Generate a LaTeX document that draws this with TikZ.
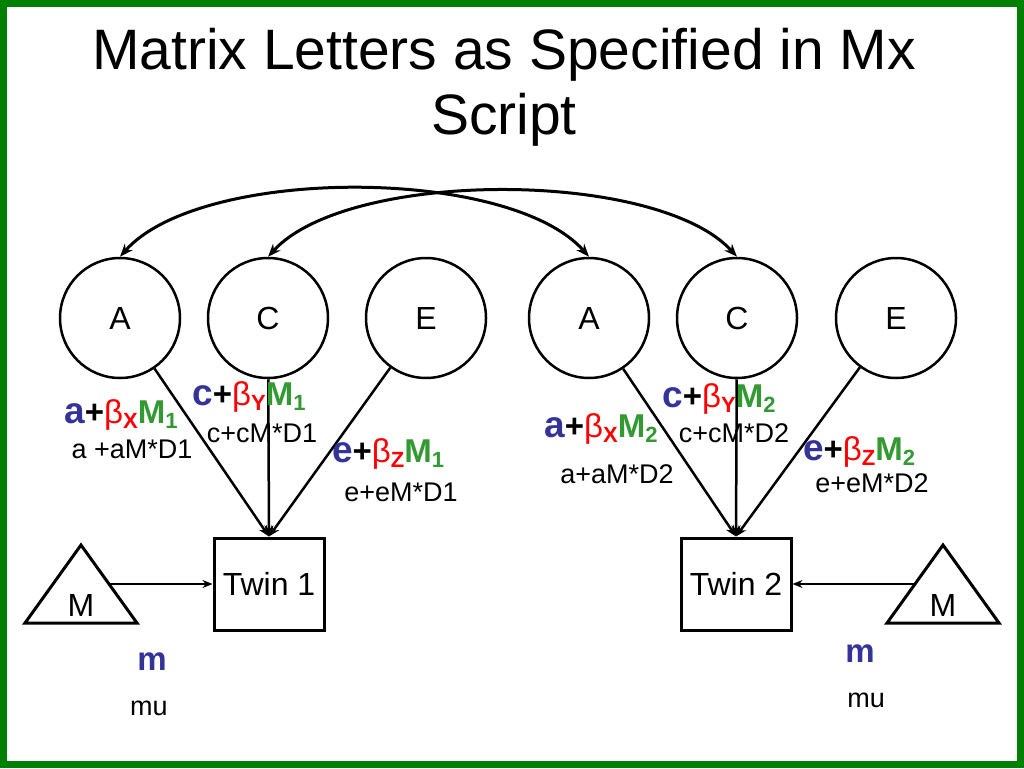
\documentclass[tikz,border=0pt]{standalone}
\usepackage{fontspec}
\setmainfont{Liberation Sans}
\usetikzlibrary{arrows.meta, positioning}
\definecolor{slidegreen}{RGB}{0,128,0}
\definecolor{pathblue}{RGB}{51,51,153}
\definecolor{pathred}{RGB}{255,0,0}
\definecolor{pathgreen}{RGB}{51,153,51}

\newcommand{\subtxt}[1]{\raisebox{-5pt}{\fontsize{22}{22}\selectfont #1}}
\newcommand{\pathlbl}[3]{\textcolor{pathblue}{\fontsize{37}{36}\selectfont #1}+\textcolor{pathred}{{\mdseries β}\subtxt{#2}}\textcolor{pathgreen}{M\subtxt{#3}}}

\begin{document}
\begin{tikzpicture}[
    x=1pt, y=-1pt,
    latent/.style={circle, draw, line width=2.5pt, minimum size=120pt, inner sep=0pt, font=\fontsize{32}{36}\selectfont},
    twinbox/.style={rectangle, draw, line width=3pt, minimum width=110pt, minimum height=92pt, inner sep=0pt, font=\fontsize{32}{36}\selectfont},
    meanlbl/.style={inner sep=0pt, anchor=base, font=\fontsize{32}{36}\selectfont},
    boldlbl/.style={inner sep=0pt, anchor=base, font=\fontsize{33}{36}\selectfont\bfseries},
    plainlbl/.style={inner sep=0pt, anchor=base, font=\fontsize{27}{30}\selectfont},
    pathline/.style={-{Stealth[length=11pt, width=9pt]}, line width=2.5pt},
    covarrow/.style={{Stealth[length=13pt, width=10pt]}-{Stealth[length=13pt, width=10pt]}, line width=3pt},
    meanarrow/.style={-{Stealth[length=10pt, width=8pt]}, line width=2pt},
]
    \useasboundingbox (0,0) rectangle (1024,768);
    \draw[slidegreen, line width=7pt] (3.5,3.5) rectangle (1020.5,764.5);

    % Title
    \node[anchor=north, inner sep=0pt, align=center, font=\fontsize{57}{65}\selectfont] (title) at (504,28)
        {Matrix Letters as Specified in Mx\\Script};

    % Latent factors
    \node[latent] (A1) at (120,318) {A};
    \node[latent] (C1) at (268,318) {C};
    \node[latent] (E1) at (426,318) {E};
    \node[latent] (A2) at (589,318) {A};
    \node[latent] (C2) at (737,318) {C};
    \node[latent] (E2) at (896,318) {E};

    % Twins
    \node[twinbox] (twin1) at (269,584) {Twin 1};
    \node[twinbox] (twin2) at (736,584) {Twin 2};

    % Means
    \draw[line width=3pt, line join=miter] (25,623) -- (81,545) -- (137,623) -- cycle;
    \node[meanlbl] (M1) at (81,616) {M};
    \coordinate (M1out) at (110,584);
    \draw[line width=3pt, line join=miter] (887,623) -- (943,545) -- (999,623) -- cycle;
    \node[meanlbl] (M2) at (943,616) {M};
    \coordinate (M2out) at (915,584);

    % Covariances
    \draw[covarrow] (A1.north) .. controls (200,166) and (509,166) .. (A2.north);
    \draw[covarrow] (C1.north) .. controls (348,169) and (657,169) .. (C2.north);

    % Paths
    \draw[pathline] (A1) -- (twin1.north);
    \draw[pathline] (C1) -- (twin1.north);
    \draw[pathline] (E1) -- (twin1.north);
    \draw[pathline] (A2) -- (twin2.north);
    \draw[pathline] (C2) -- (twin2.north);
    \draw[pathline] (E2) -- (twin2.north);
    \draw[meanarrow] (M1out) -- (twin1.west);
    \draw[meanarrow] (M2out) -- (twin2.east);

    % Path labels, twin 1
    \node[boldlbl] (la1) at (121,423) {\pathlbl{a}{X}{1}};
    \node[plainlbl] (ta1) at (132,458) {a +aM*D1};
    \node[boldlbl] (lc1) at (249,405) {\pathlbl{c}{Y}{1}};
    \node[plainlbl] (tc1) at (262,442) {c+cM*D1};
    \node[boldlbl] (le1) at (388,462) {\pathlbl{e}{Z}{1}};
    \node[plainlbl] (te1) at (401,501) {e+eM*D1};

    % Path labels, twin 2
    \node[boldlbl] (la2) at (601,437) {\pathlbl{a}{X}{2}};
    \node[plainlbl] (ta2) at (617,483) {a+aM*D2};
    \node[boldlbl] (lc2) at (719,407) {\pathlbl{c}{Y}{2}};
    \node[plainlbl] (tc2) at (734,442) {c+cM*D2};
    \node[boldlbl] (le2) at (859,460) {\pathlbl{e}{Z}{2}};
    \node[plainlbl] (te2) at (872,492) {e+eM*D2};

    % Mean labels
    \node[boldlbl, text=pathblue] (lm1) at (152,670) {m};
    \node[plainlbl] (tm1) at (149,715) {mu};
    \node[boldlbl, text=pathblue] (lm2) at (860,662) {m};
    \node[plainlbl] (tm2) at (866,707) {mu};
\end{tikzpicture}
\end{document}
